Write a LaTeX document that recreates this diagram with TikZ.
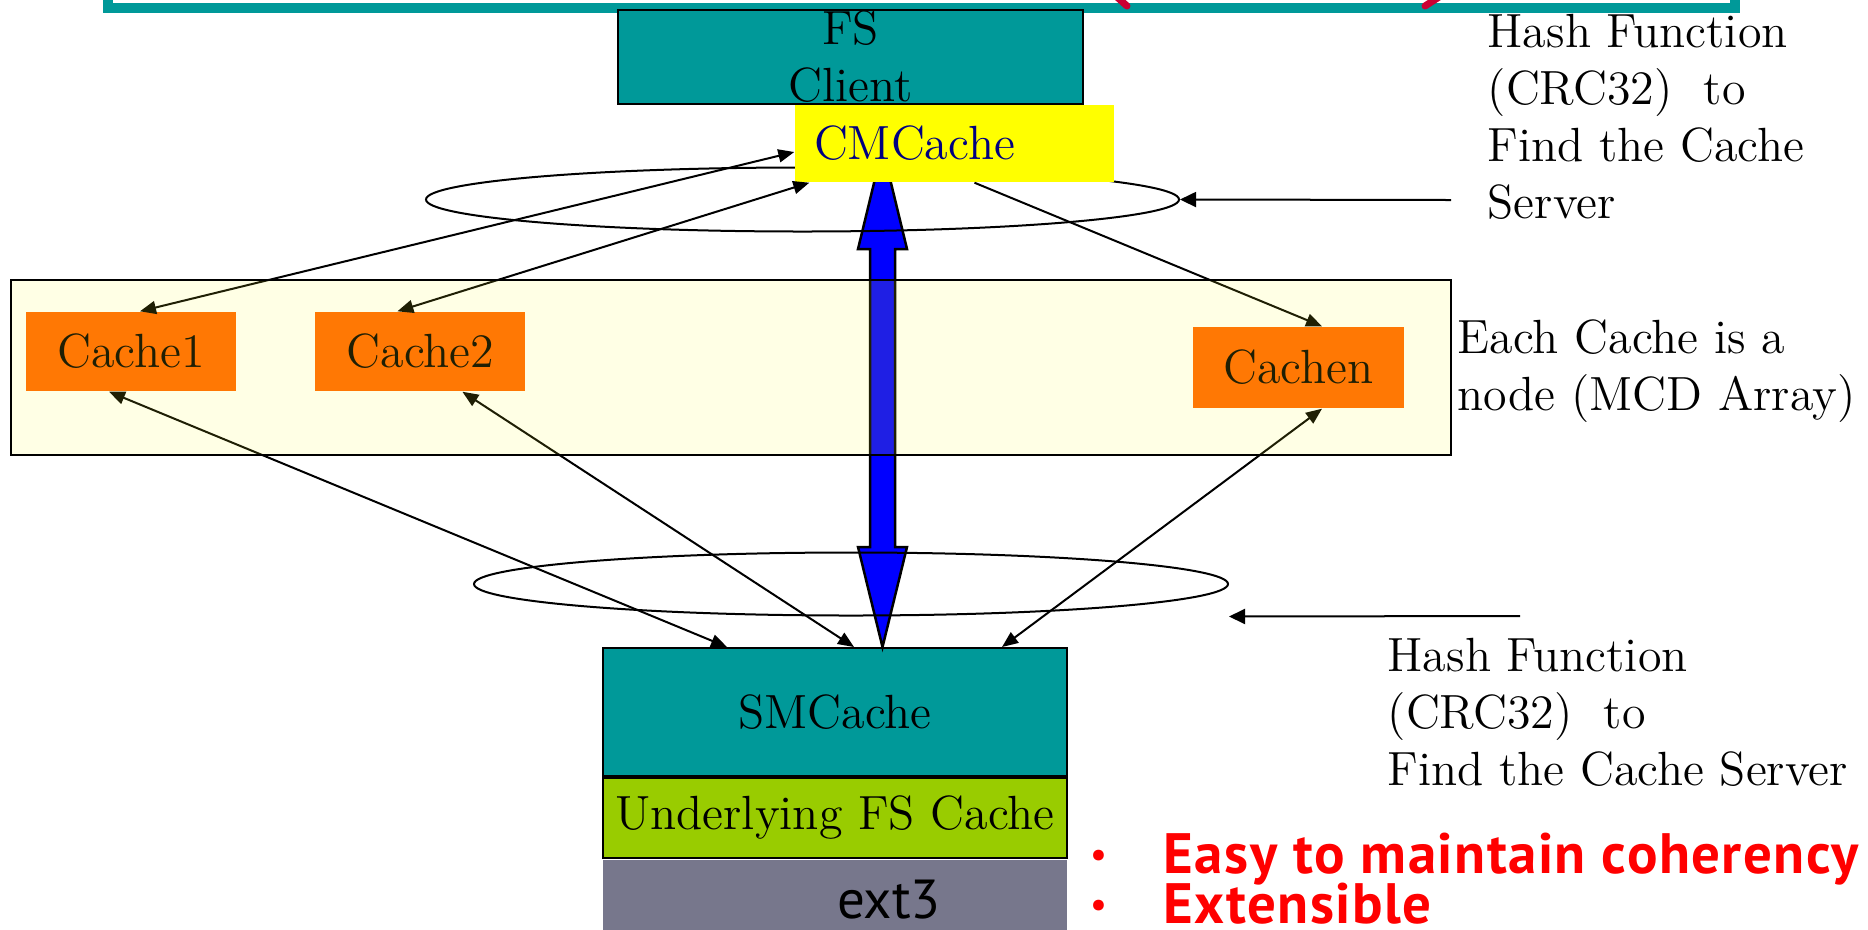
\documentclass[tikz,border=0pt]{standalone}
\usepackage{fontspec}
\usepackage{tikz}
\usetikzlibrary{shapes.geometric, arrows.meta, positioning, calc}
\newfontfamily\notefont{PT Sans}
\newfontfamily\pointfont[LetterSpace=2.6]{PT Sans}
\definecolor{clientteal}{RGB}{0, 153, 153}
\definecolor{cmyellow}{RGB}{255, 255, 0}
\definecolor{cmtext}{RGB}{0, 0, 128}
\definecolor{cacheorange}{RGB}{255, 102, 0}
\definecolor{arraytint}{RGB}{255, 255, 40}
\definecolor{fslime}{RGB}{153, 204, 0}
\definecolor{extgray}{RGB}{119, 119, 140}
\definecolor{penred}{RGB}{204, 0, 51}
\newcommand{\pointmark}{\makebox[0.73cm][l]{\raisebox{0.07cm}{\fontsize{10}{10}\selectfont\textbullet}}}

\begin{document}
\begin{tikzpicture}[
    every node/.style={font=\fontsize{13.66}{16.22}\selectfont},
    box/.style={rectangle, draw=black, line width=0.02cm, inner sep=0pt, align=center},
    cachebox/.style={rectangle, fill=cacheorange, inner sep=0pt, minimum width=2.1cm, minimum height=0.79cm},
    mcdarray/.style={rectangle, draw=black, line width=0.02cm, fill=arraytint, fill opacity=0.12},
    ring/.style={ellipse, draw=black, line width=0.02cm, inner sep=0pt},
    bulk/.style={fill=blue, draw=black, line width=0.025cm, line join=miter},
    link/.style={{Triangle[length=0.16cm,width=0.13cm]}-{Triangle[length=0.16cm,width=0.13cm]}, line width=0.02cm},
    oneway/.style={-{Triangle[length=0.16cm,width=0.13cm]}, line width=0.02cm},
    pointer/.style={-{Triangle[length=0.16cm,width=0.15cm]}, line width=0.02cm},
    note/.style={align=left, anchor=north west, inner sep=0pt},
    point/.style={text=red, font=\pointfont\bfseries\fontsize{16.2}{18}\selectfont, anchor=base west, inner sep=0pt}
]
    \useasboundingbox (0,0) rectangle (18.68,-9.29);
    \clip (0,0) rectangle (18.68,-9.29);

    % frame and pen marks left over from above
    \draw[clientteal, line width=0.1cm] (1.08,0.5) rectangle (17.35,-0.08);
    \draw[penred, line width=0.07cm, line cap=round] (11.17,0.03) -- (11.27,-0.06);
    \draw[penred, line width=0.07cm, line cap=round] (14.39,0.03) -- (14.25,-0.06);

    % Client side
    \node[box, fill=clientteal, minimum width=4.65cm, minimum height=0.94cm] (fs) at (8.505,-0.57) {FS\\Client};

    % Server stack
    \node[box, fill=clientteal, minimum width=4.64cm, minimum height=1.28cm] (smc) at (8.35,-7.12) {SMCache};
    \node[box, fill=fslime, minimum width=4.64cm, minimum height=0.80cm, below=0pt of smc] (ufs) {Underlying FS Cache};
    \node[box, draw=none, fill=extgray, minimum width=4.64cm, minimum height=0.80cm, below=0pt of ufs,
          font=\notefont\fontsize{15.65}{18}\selectfont] (ext) {\hspace*{1.08cm}ext3};

    % Cache nodes
    \node[cachebox] (c1) at (1.31,-3.515) {Cache1};
    \node[cachebox, right=0.78cm of c1] (c2) {Cache2};
    \node[cachebox, minimum width=2.11cm, minimum height=0.81cm] (cn) at (12.985,-3.675) {Cachen};

    % Direct path
    \coordinate (smtip) at ([xshift=0.475cm]smc.north);
    \coordinate (cmtip) at ($(smtip)+(0,4.99)$);
    \filldraw[bulk] (cmtip) -- ++(0.245,-1.01) -- ++(-0.12,0) -- ($(smtip)+(0.125,1.0)$) -- ++(0.12,0)
        -- (smtip) -- ++(-0.245,1.0) -- ++(0.12,0) -- ($(cmtip)+(-0.125,-1.01)$) -- ++(-0.12,0) -- cycle;

    % Hash rings
    \node[ring, minimum width=7.53cm, minimum height=0.64cm] (ringup) at (8.025,-1.995) {};
    \node[ring, minimum width=7.54cm, minimum height=0.63cm] (ringdown) at (8.51,-5.84) {};

    \node[fill=cmyellow, text=cmtext, inner xsep=0.19cm, inner ysep=0pt, text width=2.81cm,
          minimum height=0.77cm, align=left] (cmc) at (9.545,-1.435) {CMCache};

    % Relationships
    \draw[link] ([xshift=0.09cm]c1.north) -- ([yshift=-0.085cm]cmc.west);
    \draw[link] ([xshift=-0.23cm]c2.north) -- ([xshift=0.15cm]cmc.south west);
    \draw[oneway] ([xshift=0.2cm]cmc.south) -- ([xshift=0.235cm]cn.north);
    \draw[link] ([xshift=-0.22cm]c1.south) -- ([xshift=1.25cm]smc.north west);
    \draw[link] ([xshift=0.42cm]c2.south) -- ([xshift=2.52cm]smc.north west);
    \draw[link] ([xshift=0.235cm]cn.south) -- ([xshift=4.0cm]smc.north west);

    % MCD array
    \node[mcdarray, minimum width=14.40cm, minimum height=1.75cm] (mcd) at (7.31,-3.675) {};

    % Notes
    \node[note] (hashup) at (14.87,-0.137) {Hash Function\\(CRC32)~~to\\Find the Cache\\Server};
    \node[note] (cachenote) at (14.57,-3.187) {Each Cache is a\\node (MCD Array)};
    \node[note] (hashdown) at (13.87,-6.377) {Hash Function\\(CRC32)~~to\\Find the Cache Server};

    \coordinate (askup) at (14.51,-2.0);
    \coordinate (askdown) at (15.2,-6.16);
    \draw[pointer] (askup) -- (ringup.east);
    \draw[pointer] (askdown) -- (ringdown.east |- ringdown.south);

    \node[point] (easy) at (10.9,-8.73) {\pointmark Easy to maintain coherency};
    \node[point] (extensible) at (10.9,-9.23) {\pointmark Extensible};
\end{tikzpicture}
\end{document}
